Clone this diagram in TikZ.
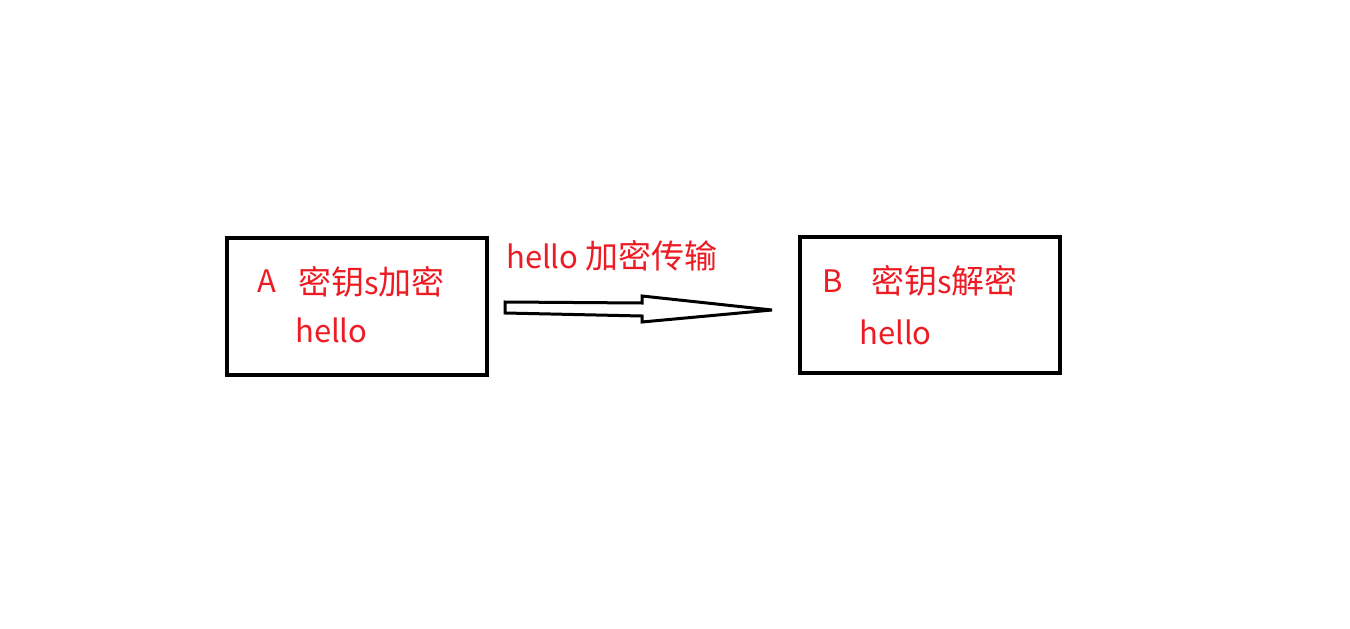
\documentclass[tikz,border=0pt]{standalone}
\usepackage{fontspec}
\setmainfont{Noto Sans CJK SC}
\newcommand{\zh}[1]{{\fontsize{33}{38}\selectfont #1}}
\definecolor{txtred}{HTML}{ED1C24}
\begin{document}
\begin{tikzpicture}[x=1pt,y=-1pt,
  box/.style={draw=black,line width=3.5pt,fill=white},
  lbl/.style={text=txtred,font=\fontsize{31}{36}\selectfont,anchor=base west,inner sep=0pt}]
\useasboundingbox[fill=white] (0,0) rectangle (1350,629);
% boxes
\draw[box] (227,238) rectangle (487,375);
\draw[box] (800,237) rectangle (1060,373);
\coordinate (Aright) at (487,306);
\coordinate (Bleft) at (800,306);
% texts A
\node[lbl] (a1) at (257,292) {A};
\node[lbl] (a2) at (298,294) {\zh{密钥}s\zh{加密}};
\node[lbl] (a3) at (295,342) {hello};
% texts B
\node[lbl] (b1) at (822,292) {B};
\node[lbl] (b2) at (871,293) {\zh{密钥}s\zh{解密}};
\node[lbl] (b3) at (859,344) {hello};
% arrow label
\node[lbl] (t) at (506,268) {hello \zh{加密传输}};
% block arrow
\draw[line width=3pt,fill=white,line join=miter]
  (505,302) -- (642,303) -- (642,296) -- (772,310) -- (642,322) -- (642,316) -- (505,313) -- cycle;
\end{tikzpicture}
\end{document}
